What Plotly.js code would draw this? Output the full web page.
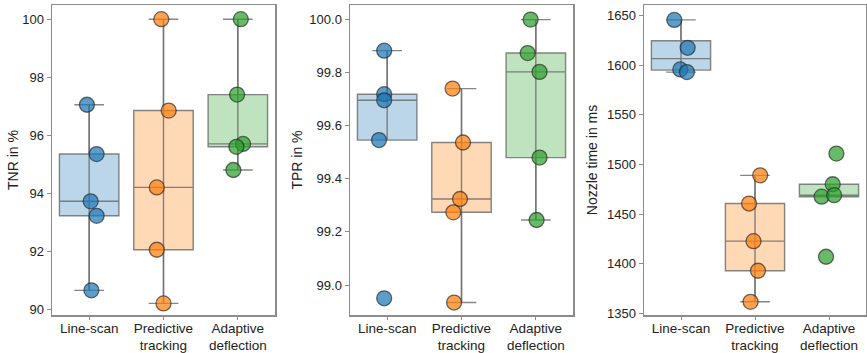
<!DOCTYPE html>
<html><head><meta charset="utf-8">
<script src="https://cdn.plot.ly/plotly-3.0.1.min.js"></script>
<style>html,body{margin:0;padding:0;background:#fff}</style>
</head><body><div id="chart" style="width:867px;height:353px"></div>
<script>
// ---- data ----
const categories = ['Line-scan', 'Predictive<br>tracking', 'Adaptive<br>deflection'];

const tnrLineScan   = [97.05, 95.35, 93.72, 93.22, 90.65];
const tnrPredictive = [100.0, 96.85, 94.2, 92.05, 90.2];
const tnrAdaptive   = [100.0, 97.4, 95.7, 95.6, 94.8];

const tprLineScan   = [99.883, 99.719, 99.696, 99.546, 98.95];
const tprPredictive = [99.74, 99.537, 99.324, 99.274, 98.934];
const tprAdaptive   = [100.0, 99.874, 99.803, 99.48, 99.245];

const nozLineScan   = [1645.6, 1617.5, 1595.7, 1593.0];
const nozPredictive = [1489, 1460.6, 1422.7, 1392.9, 1361.6];
const nozAdaptive   = [1510.9, 1480, 1467.5, 1469, 1407];

// horizontal jitter of the strip points (category units)
const jitTnr = [[-0.03, 0.10, 0.02, 0.10, 0.03], [-0.03, 0.07, -0.09, -0.09, 0.0], [0.04, -0.01, 0.07, -0.02, -0.06]];
const jitTpr = [[-0.04, -0.04, -0.04, -0.11, -0.04], [-0.12, 0.02, -0.02, -0.11, -0.10], [-0.07, -0.11, 0.05, 0.05, 0.01]];
const jitNoz = [[-0.09, 0.09, -0.01, 0.08], [0.07, -0.08, -0.02, 0.04, -0.06], [0.10, 0.05, -0.10, 0.07, -0.04]];

const yTitles = ['TNR in %', 'TPR in %', 'Nozzle time in ms'];

// ---- styling ----
const hues = [[31, 119, 180], [255, 127, 14], [44, 160, 44]];
const rgba = (c, a) => `rgba(${c[0]},${c[1]},${c[2]},${a})`;

function pct(s, p) {
  const pos = (s.length - 1) * p, lo = Math.floor(pos), hi = Math.ceil(pos);
  return s[lo] + (s[hi] - s[lo]) * (pos - lo);
}
function stats(v) {
  const s = [...v].sort((a, b) => a - b);
  const q1 = pct(s, 0.25), med = pct(s, 0.5), q3 = pct(s, 0.75), iqr = q3 - q1;
  const lo = s.find(x => x >= q1 - 1.5 * iqr);
  const hi = [...s].reverse().find(x => x <= q3 + 1.5 * iqr);
  return { q1, med, q3, lo, hi };
}

const panels = [
  { groups: [tnrLineScan, tnrPredictive, tnrAdaptive], jit: jitTnr },
  { groups: [tprLineScan, tprPredictive, tprAdaptive], jit: jitTpr },
  { groups: [nozLineScan, nozPredictive, nozAdaptive], jit: jitNoz }
];

const traces = [];
panels.forEach((p, pi) => {
  const xa = pi === 0 ? 'x' : 'x' + (pi + 1);
  const ya = pi === 0 ? 'y' : 'y' + (pi + 1);
  p.groups.forEach((vals, gi) => {
    const st = stats(vals);
    traces.push({
      type: 'box', xaxis: xa, yaxis: ya, x: [gi],
      q1: [st.q1], median: [st.med], q3: [st.q3], lowerfence: [st.lo], upperfence: [st.hi],
      width: 0.8, whiskerwidth: 0.5, boxpoints: false,
      fillcolor: rgba(hues[gi], 0.3),
      line: { color: 'rgba(95,95,95,0.75)', width: 1.4 },
      hoverinfo: 'skip', showlegend: false
    });
    traces.push({
      type: 'scatter', mode: 'lines', xaxis: xa, yaxis: ya,
      x: [gi, gi], y: [st.lo, st.hi],
      line: { color: 'rgba(110,110,110,0.85)', width: 1.4 },
      hoverinfo: 'skip', showlegend: false
    });
    traces.push({
      type: 'scatter', mode: 'markers', xaxis: xa, yaxis: ya,
      x: vals.map((v, k) => gi + p.jit[gi][k]), y: vals,
      marker: { size: 15, color: rgba(hues[gi], 0.72), line: { color: 'rgba(35,35,35,0.65)', width: 1.3 } },
      hoverinfo: 'skip', showlegend: false
    });
  });
});

const font = { family: 'Liberation Sans, Arial, sans-serif', color: '#222' };
const xBase = {
  range: [-0.5, 2.5], tickmode: 'array', tickvals: [0, 1, 2], ticktext: categories,
  showline: true, mirror: true, linecolor: '#8c8c8c', linewidth: 1.5,
  ticks: 'outside', ticklen: 3, tickcolor: '#8c8c8c', tickwidth: 1,
  ticklabelstandoff: -3,
  showgrid: false, zeroline: false, fixedrange: true,
  tickfont: Object.assign({ size: 13.5 }, font)
};
const yBase = {
  showline: true, mirror: true, linecolor: '#8c8c8c', linewidth: 1.5,
  ticks: 'outside', ticklen: 4, tickcolor: '#8c8c8c', tickwidth: 1,
  showgrid: false, zeroline: false, fixedrange: true,
  tickfont: Object.assign({ size: 13 }, font)
};
const doms = [[52 / 867, 275 / 867], [350 / 867, 573 / 867], [644 / 867, 866 / 867]];
const yRanges = [[89.80, 100.49], [98.887, 100.055], [1348.3, 1660.6]];
const yTicks = [
  { tick0: 90, dtick: 2 },
  { tick0: 99, dtick: 0.2, tickformat: '.1f' },
  { tick0: 1350, dtick: 50 }
];
const standoffs = [0, 3, 6];

const layout = {
  width: 867, height: 353,
  margin: { l: 0, r: 0, t: 5, b: 38 },
  paper_bgcolor: '#fff', plot_bgcolor: '#fff',
  showlegend: false
};
for (let i = 0; i < 3; i++) {
  const sx = i === 0 ? '' : String(i + 1);
  layout['xaxis' + sx] = Object.assign({}, xBase, { domain: doms[i], anchor: 'y' + sx });
  layout['yaxis' + sx] = Object.assign({}, yBase, yTicks[i], {
    range: yRanges[i], anchor: 'x' + sx, tickmode: 'linear',
    title: { text: yTitles[i], standoff: standoffs[i], font: Object.assign({ size: 14 }, font) }
  });
}

Plotly.newPlot('chart', traces, layout, { displayModeBar: false, staticPlot: true });
</script>
</body></html>
